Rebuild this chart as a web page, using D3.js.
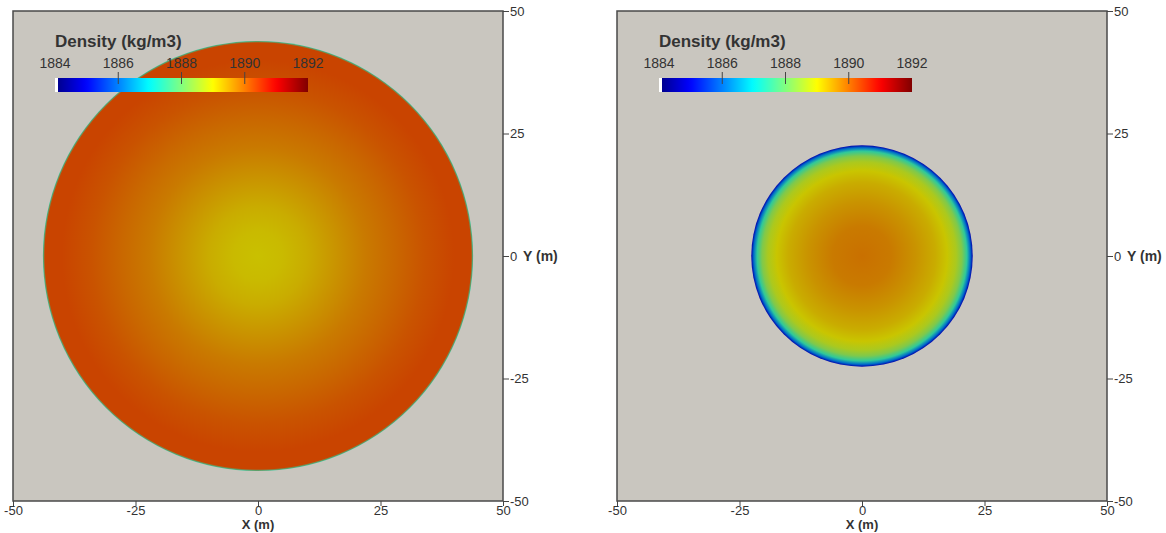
<!DOCTYPE html>
<html>
<head>
<meta charset="utf-8">
<script src="https://cdn.jsdelivr.net/npm/d3@7"></script>
<style>
  body { margin: 0; background: #fff; }
  text { font-family: "Liberation Sans", Arial, sans-serif; fill: #333; }
</style>
</head>
<body>
<div id="chart"></div>
<script>
// axis ticks (m) and colour bar ticks (kg/m3)
const xTicks = [-50, -25, 0, 25, 50];
const yTicks = [-50, -25, 0, 25, 50];
const densityTicks = [1884, 1886, 1888, 1890, 1892];

// ParaView "Jet" preset, positions along 0..1
const jetPos = [0, 0.1111, 0.3651, 0.4921, 0.6190, 0.8730, 1];
const jetColors = ["#000090", "#0000ff", "#00ffff", "#80ff80", "#ffff00", "#ff0000", "#800000"];

// radial density profiles, radius in m
const leftRadius  = [0, 5, 10, 16, 22, 28, 34, 40, 43.5, 43.9];
const leftDensity = [1889.05, 1889.1, 1889.25, 1889.5, 1889.75, 1889.95, 1890.15, 1890.3, 1890.3, 1887.4];
const rightRadius  = [0, 6, 11, 15, 17.4, 19.2, 20.4, 21.4, 22.1, 22.6];
const rightDensity = [1889.85, 1889.75, 1889.5, 1889.25, 1889.0, 1888.65, 1888.2, 1887.4, 1886.0, 1884.6];

const width = 1166, height = 533;
const size = 490, plotTop = 11;
const panels = [
  { x0: 13,  radius: leftRadius,  density: leftDensity },
  { x0: 617, radius: rightRadius, density: rightDensity }
];
const shade = 0.79;  // surface lighting darkens the rendered field

const jet = d3.scaleLinear().domain(jetPos).range(jetColors).interpolate(d3.interpolateRgb).clamp(true);
const toT = d3.scaleLinear().domain([1884, 1892]);
const shaded = v => {
  const c = d3.rgb(jet(toT(v)));
  return d3.rgb(c.r * shade, c.g * shade, c.b * shade).formatHex();
};

const svg = d3.select("#chart").append("svg")
  .attr("width", width).attr("height", height);
const defs = svg.append("defs");

// colour bar gradient
const cbGrad = defs.append("linearGradient").attr("id", "jetbar");
d3.range(0, 1.0001, 0.02).forEach(t => {
  cbGrad.append("stop").attr("offset", t).attr("stop-color", jet(t));
});

panels.forEach((p, i) => {
  const x = d3.scaleLinear().domain([-50, 50]).range([p.x0, p.x0 + size]);
  const y = d3.scaleLinear().domain([-50, 50]).range([plotTop + size, plotTop]);
  const g = svg.append("g");

  g.append("rect")
    .attr("x", x(-50)).attr("y", y(50))
    .attr("width", size).attr("height", size)
    .attr("fill", "#c9c6bf");

  // density field as radial gradient
  const rMax = d3.max(p.radius);
  const grad = defs.append("radialGradient")
    .attr("id", "field" + i)
    .attr("gradientUnits", "userSpaceOnUse")
    .attr("cx", x(0)).attr("cy", y(0))
    .attr("r", x(rMax) - x(0));
  p.radius.forEach((r, k) => {
    grad.append("stop")
      .attr("offset", r / rMax)
      .attr("stop-color", shaded(p.density[k]));
  });
  g.append("circle")
    .attr("cx", x(0)).attr("cy", y(0))
    .attr("r", x(rMax) - x(0))
    .attr("fill", `url(#field${i})`);

  g.append("rect")
    .attr("x", x(-50)).attr("y", y(50))
    .attr("width", size).attr("height", size)
    .attr("fill", "none").attr("stroke", "#4a4a4a").attr("stroke-width", 1.5);

  // axes
  const xAxis = g.append("g")
    .attr("transform", `translate(0,${y(-50)})`)
    .call(d3.axisBottom(x).tickValues(xTicks).tickSize(5).tickPadding(0).tickFormat(d => String(d)));
  const yAxis = g.append("g")
    .attr("transform", `translate(${x(50)},0)`)
    .call(d3.axisRight(y).tickValues(yTicks).tickSize(6).tickPadding(1).tickFormat(d => String(d)));
  [xAxis, yAxis].forEach(a => {
    a.select(".domain").remove();
    a.selectAll("line").attr("stroke", "#444");
    a.selectAll("text")
      .attr("font-family", "Liberation Sans, Arial, sans-serif")
      .attr("font-size", 13).attr("fill", "#333");
  });

  g.append("text")
    .attr("x", x(0)).attr("y", 529)
    .attr("text-anchor", "middle")
    .attr("font-size", 13).attr("font-weight", "bold").attr("fill", "#111")
    .text("X (m)");
  g.append("text")
    .attr("x", x(50) + 20).attr("y", y(0)).attr("dy", "0.35em")
    .attr("font-size", 14).attr("font-weight", "bold").attr("fill", "#111")
    .text("Y (m)");

  // colour bar
  const cb = d3.scaleLinear().domain([1884, 1892]).range([p.x0 + 42, p.x0 + 295]);
  g.append("text")
    .attr("x", cb(1884)).attr("y", 47)
    .attr("font-size", 17).attr("font-weight", "bold").attr("fill", "#111")
    .text("Density (kg/m3)");
  g.append("rect")
    .attr("x", cb(1884)).attr("y", 78)
    .attr("width", 3).attr("height", 14)
    .attr("fill", "#fff");
  g.append("rect")
    .attr("x", cb(1884) + 3).attr("y", 78)
    .attr("width", cb(1892) - cb(1884) - 3).attr("height", 14)
    .attr("fill", "url(#jetbar)");
  g.selectAll(".cbtick")
    .data(densityTicks)
    .join("text")
    .attr("x", d => cb(d)).attr("y", 68)
    .attr("text-anchor", "middle")
    .attr("font-size", 14).attr("fill", "#222")
    .text(d => d);
  g.selectAll(".cbline")
    .data(densityTicks.slice(1, -1))
    .join("line")
    .attr("x1", d => cb(d)).attr("x2", d => cb(d))
    .attr("y1", 72).attr("y2", 84)
    .attr("stroke", "#444").attr("stroke-width", 1);
});
</script>
</body>
</html>
